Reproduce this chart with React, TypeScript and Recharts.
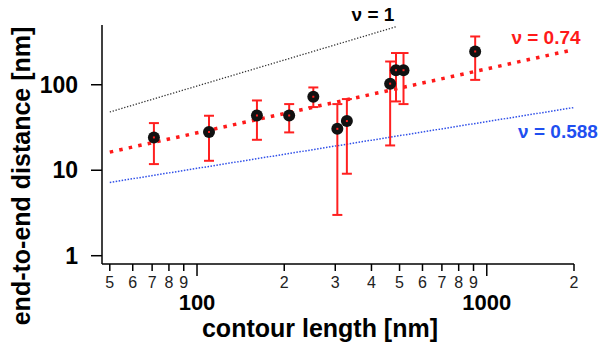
import { ComposedChart, Scatter, Line, XAxis, YAxis, ErrorBar } from 'recharts';

// contour length [nm] vs end-to-end distance [nm]
const lengths = [71, 110, 161, 208, 252, 305, 329, 464, 486, 516, 912];
const distances = [24.2, 28, 43.7, 43.7, 72.4, 30.5, 37.6, 103, 148, 148, 245];
const errLow = [11.8, 12.9, 22.7, 27.7, 54.8, 3.0, 9.1, 19.5, 63.8, 59.4, 114];
const errHigh = [35.6, 43.4, 65.5, 59.4, 93, 59.4, 68, 187, 235, 235, 367];

// power-law guide lines (end points)
const nuOne = [
  { x: 50, y: 48 },
  { x: 490, y: 481 },
];
const nuFit = [
  { x: 50, y: 16.3 },
  { x: 1940, y: 252 },
];
const nuFlory = [
  { x: 50, y: 7.2 },
  { x: 1990, y: 54 },
];

const xTicks = [50, 60, 70, 80, 90, 100, 200, 300, 400, 500, 600, 700, 800, 900, 1000, 2000];
const yTicks = [1, 10, 100];

const FONT = '"Liberation Sans", Arial, sans-serif';

const points = lengths.map((x, i) => ({
  x,
  y: distances[i],
  err: [distances[i] - errLow[i], errHigh[i] - distances[i]],
}));

function XTick({ x, y, payload }: any) {
  const v = payload.value;
  const major = v === 100 || v === 1000;
  const digit = String(v)[0];
  return (
    <g>
      <line x1={x} x2={x} y1={y} y2={y + (major ? 12 : 7)} stroke="#000" strokeWidth={1.5} />
      {major ? (
        <text x={x} y={y + 46} textAnchor="middle" fontFamily={FONT} fontWeight="bold" fontSize={22} fill="#000">
          {v}
        </text>
      ) : (
        <text x={x} y={y + 24} textAnchor="middle" fontFamily={FONT} fontSize={16} fill="#222">
          {digit}
        </text>
      )}
    </g>
  );
}

function YTick({ x, y, payload }: any) {
  return (
    <g>
      <line x1={x - 11} x2={x} y1={y} y2={y} stroke="#000" strokeWidth={1.5} />
      <text x={x - 24} y={y + 8} textAnchor="end" fontFamily={FONT} fontWeight="bold" fontSize={23} fill="#000">
        {payload.value}
      </text>
    </g>
  );
}

function Dot({ cx, cy }: any) {
  return (
    <g>
      <circle cx={cx} cy={cy} r={6} fill="#111" />
      <rect x={cx - 1} y={cy - 1} width={2} height={2} fill="#ff2020" />
    </g>
  );
}

export default function App() {
  return (
    <div style={{ position: 'absolute', left: 0, top: 0, background: '#fff' }}>
      <ComposedChart width={604} height={345} margin={{ top: 25, right: 30, bottom: 0, left: 0 }}>
        <XAxis
          dataKey="x"
          type="number"
          scale="log"
          domain={[47, 2000]}
          allowDataOverflow
          ticks={xTicks}
          interval={0}
          height={81}
          tickSize={0}
          tickMargin={0}
          tickLine={false}
          axisLine={{ stroke: '#000', strokeWidth: 1.5 }}
          tick={<XTick />}
        />
        <YAxis
          dataKey="y"
          type="number"
          scale="log"
          domain={[0.8, 500]}
          allowDataOverflow
          ticks={yTicks}
          interval={0}
          width={102}
          tickSize={0}
          tickMargin={0}
          tickLine={false}
          axisLine={{ stroke: '#000', strokeWidth: 1.5 }}
          tick={<YTick />}
        />
        <Line data={nuOne} dataKey="y" stroke="#333" strokeWidth={1.3} strokeDasharray="1.3 1.7" dot={false} activeDot={false} isAnimationActive={false} />
        <Line data={nuFlory} dataKey="y" stroke="#2f4fe8" strokeWidth={1.5} strokeDasharray="1.5 1.5" dot={false} activeDot={false} isAnimationActive={false} />
        <Line data={nuFit} dataKey="y" stroke="#ff1a1a" strokeWidth={3.5} strokeDasharray="3.5 6.2" dot={false} activeDot={false} isAnimationActive={false} />
        <Scatter data={points} dataKey="y" shape={<Dot />} isAnimationActive={false}>
          <ErrorBar dataKey="err" direction="y" width={5} stroke="#ff2020" strokeWidth={2} isAnimationActive={false} />
        </Scatter>
        <text x={373} y={21} textAnchor="middle" fontFamily={FONT} fontWeight="bold" fontSize={19} fill="#000">
          ν = 1
        </text>
        <text x={546} y={44} textAnchor="middle" fontFamily={FONT} fontWeight="bold" fontSize={19} fill="#ff1a1a">
          ν = 0.74
        </text>
        <text x={558} y={138} textAnchor="middle" fontFamily={FONT} fontWeight="bold" fontSize={19} fill="#1f4ff0">
          ν = 0.588
        </text>
        <text x={320} y={337} textAnchor="middle" fontFamily={FONT} fontWeight="bold" fontSize={25} fill="#000">
          contour length [nm]
        </text>
        <text
          x={21}
          y={176}
          textAnchor="middle"
          dominantBaseline="central"
          transform="rotate(-90 21 176)"
          fontFamily={FONT}
          fontWeight="bold"
          fontSize={25}
          fill="#000"
        >
          end-to-end distance [nm]
        </text>
      </ComposedChart>
    </div>
  );
}
